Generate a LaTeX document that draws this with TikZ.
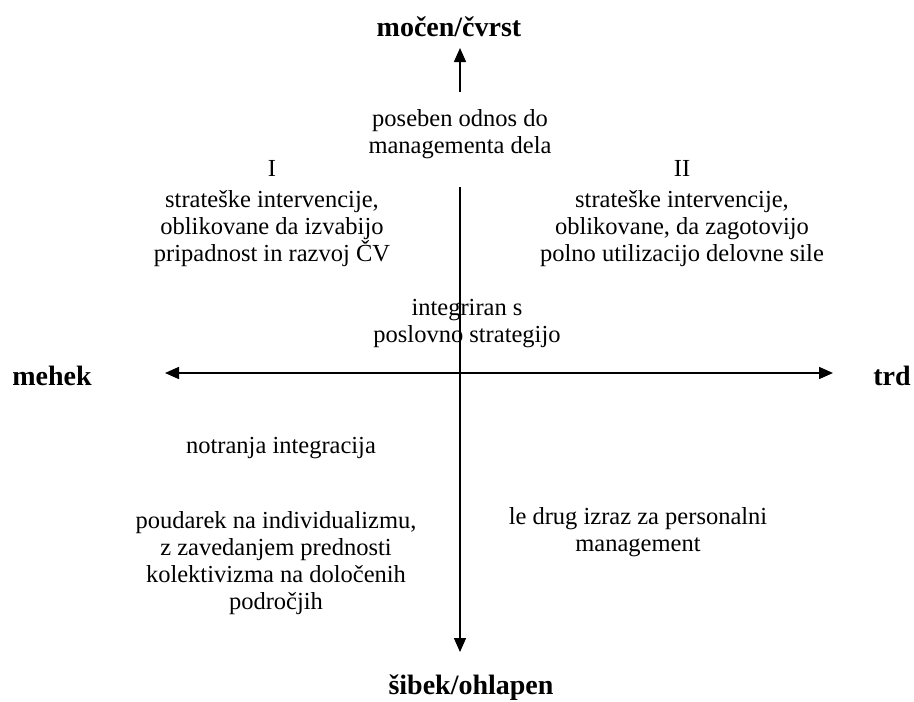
\documentclass[tikz,border=0pt]{standalone}
\usepackage{fontspec}
\setmainfont{Liberation Serif}
\usetikzlibrary{arrows.meta}

\begin{document}
\begin{tikzpicture}[x = 1pt, y = -1pt]
	\tikzstyle{axisStyle} = [line width = 1.5pt, -{Triangle[length = 14pt, width = 12pt]}]
	\tikzstyle{poleStyle} = [inner sep = 0pt, font = \fontsize{28}{30}\selectfont\bfseries]
	\tikzstyle{textStyle} = [inner sep = 0pt, align = center, font = \fontsize{24.5}{27}\selectfont]
	\useasboundingbox (0, 0) rectangle (914, 702);
	% poles
	\node[poleStyle] (strong) at (449, 27) {močen/čvrst};
	\node[poleStyle] (weak) at (471, 688) {šibek/ohlapen};
	\node[poleStyle] (soft) at (52, 376) {mehek};
	\node[poleStyle] (hard) at (892, 376) {trd};
	% axes
	\coordinate (upS) at (460, 92);
	\coordinate (upE) at (460, 48);
	\coordinate (downS) at (460, 187);
	\coordinate (downE) at (460, 652);
	\coordinate (leftE) at (165, 373);
	\coordinate (rightE) at (833, 373);
	\draw[axisStyle] (upS) -- (upE);
	\draw[axisStyle] (downS) -- (downE);
	\draw[axisStyle, {Triangle[length = 14pt, width = 12pt]}-{Triangle[length = 14pt, width = 12pt]}] (leftE) -- (rightE);
	% texts
	\node[textStyle] (special) at (460, 134) {poseben odnos do\\managementa dela};
	\node[textStyle] (quadI) at (272, 214) {I\\[4pt]strateške intervencije,\\oblikovane da izvabijo\\pripadnost in razvoj ČV};
	\node[textStyle] (quadII) at (682, 214) {II\\[4pt]strateške intervencije,\\oblikovane, da zagotovijo\\polno utilizacijo delovne sile};
	\node[textStyle] (integr) at (467, 324) {integriran s\\poslovno strategijo};
	\node[textStyle] (inner) at (281, 448) {notranja integracija};
	\node[textStyle] (indiv) at (276, 563) {poudarek na individualizmu,\\z zavedanjem prednosti\\kolektivizma na določenih\\področjih};
	\node[textStyle] (other) at (638, 532) {le drug izraz za personalni\\management};
\end{tikzpicture}
\end{document}
